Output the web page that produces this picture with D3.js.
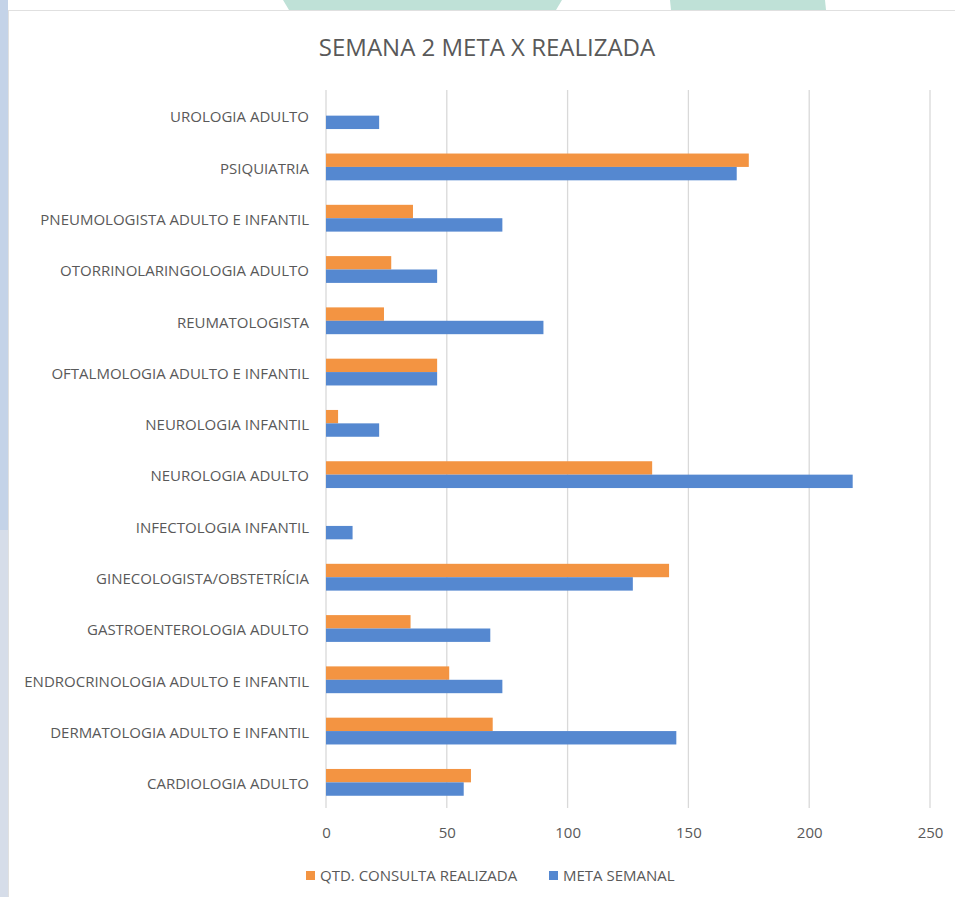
<!DOCTYPE html>
<html>
<head>
<meta charset="utf-8">
<script src="https://cdn.jsdelivr.net/npm/d3@7"></script>
<style>
  body { margin: 0; background: #fff; }
  svg { display: block; font-family: "Open Sans", sans-serif; }
</style>
</head>
<body>
<svg width="955" height="897"></svg>
<script>
var categories = [
  "UROLOGIA ADULTO",
  "PSIQUIATRIA",
  "PNEUMOLOGISTA ADULTO E INFANTIL",
  "OTORRINOLARINGOLOGIA ADULTO",
  "REUMATOLOGISTA",
  "OFTALMOLOGIA ADULTO E INFANTIL",
  "NEUROLOGIA INFANTIL",
  "NEUROLOGIA ADULTO",
  "INFECTOLOGIA INFANTIL",
  "GINECOLOGISTA/OBSTETRÍCIA",
  "GASTROENTEROLOGIA ADULTO",
  "ENDROCRINOLOGIA ADULTO E INFANTIL",
  "DERMATOLOGIA ADULTO E INFANTIL",
  "CARDIOLOGIA ADULTO"
];
var realizada = [0, 175, 36, 27, 24, 46, 5, 135, 0, 142, 35, 51, 69, 60];
var meta = [22, 170, 73, 46, 90, 46, 22, 218, 11, 127, 68, 73, 145, 57];
var xTicks = [0, 50, 100, 150, 200, 250];
var seriesNames = ["QTD. CONSULTA REALIZADA", "META SEMANAL"];
var colors = ["#f39442", "#5588d0"];

var svg = d3.select("svg");

// page decoration behind the chart
svg.append("rect").attr("x", 0).attr("y", 0).attr("width", 8).attr("height", 897).attr("fill", "#d6dde9");
svg.append("rect").attr("x", 0).attr("y", 0).attr("width", 8).attr("height", 530).attr("fill", "#c4d3e8");
svg.append("path").attr("d", "M283,0 L562,0 L556,10 L289,10 Z").attr("fill", "#bfe1d7");
svg.append("path").attr("d", "M670,0 L825,0 L826,10 L671,10 Z").attr("fill", "#bfe1d7");
svg.append("rect").attr("x", 8.5).attr("y", 10.5).attr("width", 960).attr("height", 900)
  .attr("fill", "#fff").attr("stroke", "#e0e0e0");

var plotLeft = 326, plotRight = 930, plotTop = 90, plotBottom = 808;

var x = d3.scaleLinear().domain([0, 250]).range([plotLeft, plotRight]);
var y = d3.scaleBand().domain(categories).range([plotTop, plotBottom]);
var barH = 13.4;

svg.append("text")
  .attr("x", 487).attr("y", 56)
  .attr("text-anchor", "middle")
  .attr("font-size", 24)
  .attr("fill", "#595959")
  .text("SEMANA 2 META X REALIZADA");

// gridlines
svg.append("g").selectAll("line")
  .data(xTicks)
  .enter().append("line")
  .attr("x1", d => x(d)).attr("x2", d => x(d))
  .attr("y1", plotTop).attr("y2", plotBottom)
  .attr("stroke", "#d9d9d9").attr("stroke-width", 1.3);

var xAxis = d3.axisBottom(x).tickValues(xTicks).tickSize(0).tickPadding(0);
var gx = svg.append("g").attr("transform", "translate(0," + (plotBottom + 19) + ")").call(xAxis);
gx.select(".domain").remove();
gx.selectAll("text").attr("font-size", 15).attr("fill", "#595959").attr("font-family", "Open Sans");

var yAxis = d3.axisLeft(y).tickSize(0).tickPadding(17);
var gy = svg.append("g").attr("transform", "translate(" + plotLeft + ",0)").call(yAxis);
gy.select(".domain").remove();
gy.selectAll("text").attr("font-size", 15).attr("fill", "#595959").attr("font-family", "Open Sans").attr("dy", "0.45em");

var bars = svg.append("g");
bars.selectAll(".real")
  .data(categories)
  .enter().append("rect")
  .attr("x", x(0))
  .attr("y", (d) => y(d) + y.bandwidth() / 2 - barH)
  .attr("width", (d, i) => x(realizada[i]) - x(0))
  .attr("height", barH)
  .attr("fill", colors[0]);
bars.selectAll(".meta")
  .data(categories)
  .enter().append("rect")
  .attr("x", x(0))
  .attr("y", (d) => y(d) + y.bandwidth() / 2)
  .attr("width", (d, i) => x(meta[i]) - x(0))
  .attr("height", barH)
  .attr("fill", colors[1]);

// legend
var legendX = [306, 549];
var lg = svg.append("g").selectAll("g")
  .data(seriesNames)
  .enter().append("g")
  .attr("transform", (d, i) => "translate(" + legendX[i] + ",876)");
lg.append("rect").attr("x", 0).attr("y", -5).attr("width", 9).attr("height", 9)
  .attr("fill", (d, i) => colors[i]);
lg.append("text").attr("x", 14).attr("y", 0).attr("dy", "0.35em")
  .attr("font-size", 15).attr("fill", "#595959").text(d => d);
</script>
</body>
</html>
